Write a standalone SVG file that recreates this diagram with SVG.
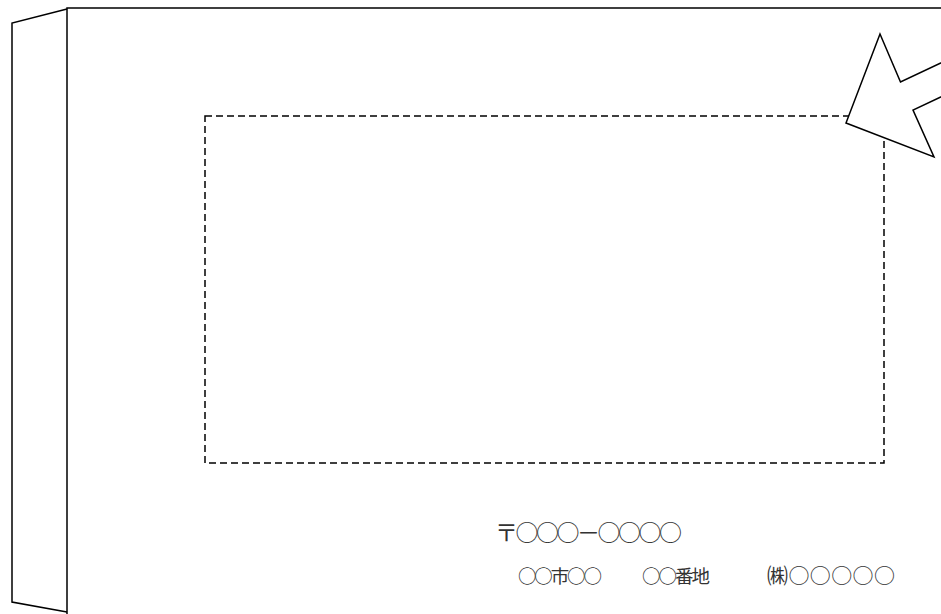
<svg xmlns="http://www.w3.org/2000/svg" width="941" height="614" viewBox="0 0 941 614">
<style>
.ln{fill:none;stroke:#000;stroke-width:1.5}
.dash{fill:none;stroke:#000;stroke-width:1.5;stroke-dasharray:7 4}
.t{font-family:"Noto Sans CJK JP","Noto Sans CJK SC",sans-serif;fill:#333}
</style>
<rect width="941" height="614" fill="#fff"/>
<g id="envelope">
<polyline class="ln" points="941,8 67,8 67,614"/>
<polyline class="ln" points="67,9 12,23 12,602 67,612"/>
</g>
<g id="window">
<rect class="dash" x="205" y="116" width="679" height="347"/>
</g>
<g id="arrow">
<polygon points="880,34 900.5,82 960,54 960,88 913,110 934,157 846,123" fill="#fff" stroke="#000" stroke-width="1.5" stroke-linejoin="miter"/>
</g>
<g id="address">
<text class="t" x="495" y="540.5" font-size="23" textLength="187" lengthAdjust="spacing">〒○○○－○○○○</text>
<text class="t" x="518" y="582.5" font-size="18.5" textLength="84" lengthAdjust="spacing">○○市○○</text>
<text class="t" x="642" y="582.5" font-size="18.5" textLength="68" lengthAdjust="spacing">○○番地</text>
<text class="t" x="767" y="582.5" font-size="21" textLength="128" lengthAdjust="spacing">㈱○○○○○</text>
</g>
</svg>
